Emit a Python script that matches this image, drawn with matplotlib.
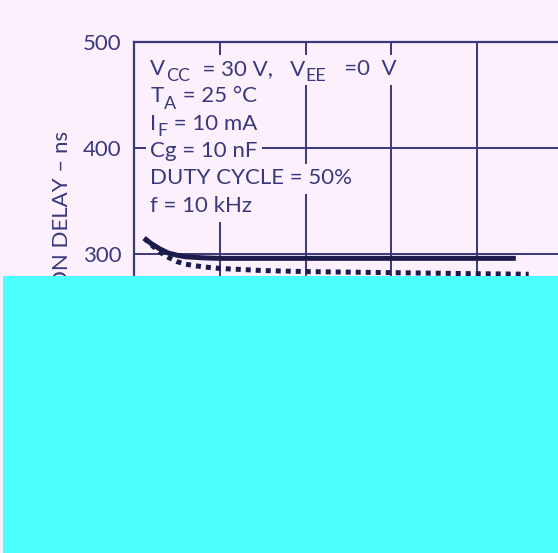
import matplotlib
matplotlib.use("Agg")
import matplotlib.pyplot as plt
from matplotlib.patches import Rectangle

# data (x in grid units, y in ns)
solid_x = [0.12, 0.2, 0.3, 0.4, 0.5, 0.6, 0.8, 1.0, 1.5, 2.0, 3.0, 4.0, 4.45]
delay_solid = [315, 310, 305, 301, 299, 297.5, 296.5, 296, 296, 296, 296, 296, 296]
dotted_x = [0.12, 0.2, 0.3, 0.4, 0.5, 0.6, 0.8, 1.0, 1.5, 2.0, 3.0, 4.0, 4.6]
delay_dotted = [315, 309, 302, 297, 293, 290.5, 288, 286.5, 284.5, 283.5, 282.5, 281.5, 281]
y_ticks = [100, 200, 300, 400, 500]
x_grid = [0, 1, 2, 3, 4, 5]
# each line: list of (text, is_subscript)
cond_lines = [[("V", False), ("CC", True), ("  = 30 V,   V", False), ("EE", True), ("   =0  V", False)],
              [("T", False), ("A", True), (" = 25 °C", False)],
              [("I", False), ("F", True), (" = 10 mA", False)],
              [("Cg = 10 nF", False)],
              [("DUTY CYCLE = 50%", False)],
              [("f = 10 kHz", False)]]

bg = "#fdf0fd"
navy = "#3a3a7a"
dark = "#1c1c4c"

plt.rcParams["font.family"] = ["Lato", "DejaVu Sans"]

fig = plt.figure(figsize=(5.58, 5.53), dpi=100, facecolor=bg)
ax = fig.add_axes([0.240, 0.157, 0.769, 0.767])
ax.set_facecolor(bg)
ax.set_xlim(0, 5)
ax.set_ylim(100, 500)
ax.set_yticks(y_ticks)
ax.set_xticks(x_grid)
ax.set_xticklabels([])
ax.tick_params(length=0, labelsize=16, labelcolor=navy, pad=9)
ax.grid(True, color=navy, linewidth=1.4)
for s in ax.spines.values():
    s.set_color(navy)
    s.set_linewidth(1.6)

ax.plot(solid_x, delay_solid, color=dark, linewidth=3.6, solid_capstyle="butt", zorder=3)
ax.plot(dotted_x, delay_dotted, color=dark, linewidth=3.6, linestyle=(0, (1, 1)), zorder=3)

line_ends = []
for i, parts in enumerate(cond_lines):
    y = 469 - i * 25.8
    first, _ = parts[0]
    base = ax.text(0.19, y, first, fontsize=16, color=navy, va="baseline", ha="left", zorder=5)
    prev = base
    for txt, sub in parts[1:]:
        if sub:
            prev = ax.annotate(txt, xy=(1, 0), xycoords=prev, xytext=(0.5, -4),
                               textcoords="offset points", fontsize=13, color=navy,
                               va="bottom", ha="left", zorder=5)
        else:
            prev = ax.annotate(txt, xy=(1, 0), xycoords=(prev, base), xytext=(0.5, 0),
                               textcoords="offset points", fontsize=16, color=navy,
                               va="bottom", ha="left", zorder=5)
    line_ends.append((base, prev))

# background strips behind each text line, they hide the grid like in the reference
fig.canvas.draw()
inv = ax.transData.inverted()
for base, last in line_ends:
    b = base.get_window_extent()
    e = last.get_window_extent()
    (dx0, dy0), (dx1, dy1) = inv.transform([(b.x0 - 4, b.y0 - 6), (e.x1 + 4, b.y1 + 4)])
    ax.add_patch(Rectangle((dx0, dy0), dx1 - dx0, dy1 - dy0, facecolor=bg,
                           edgecolor="none", zorder=4))

fig.text(62 / 558, 1 - 131 / 553, "TURN ON DELAY – ns", rotation=90, ha="center", va="top",
         fontsize=16, color=navy)

# cyan block covering the lower half
fig.patches.append(Rectangle((3 / 558, 0), 1, 277 / 553, transform=fig.transFigure,
                             facecolor="#4dffff", edgecolor="none", zorder=10))

fig.savefig("out.png", dpi=100, facecolor=bg)
